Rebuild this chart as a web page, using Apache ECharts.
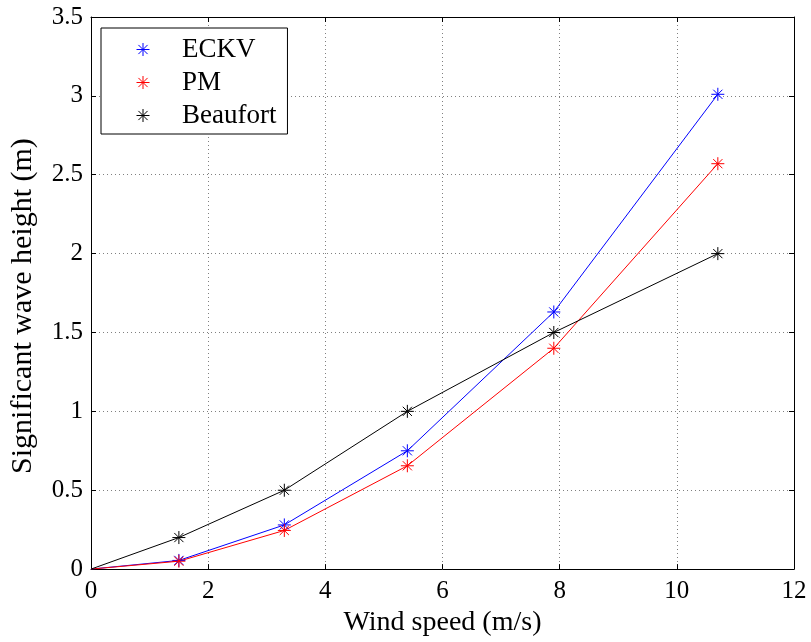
<!DOCTYPE html>
<html>
<head>
<meta charset="utf-8">
<script src="https://cdn.jsdelivr.net/npm/echarts@6/dist/echarts.min.js"></script>
<style>
  html, body { margin: 0; padding: 0; background: #fff; }
  #chart { width: 811px; height: 642px; }
</style>
</head>
<body>
<div id="chart"></div>
<script>
// Wind speed (m/s) and significant wave height (m) for three estimates
const windSpeed = [0, 1.5, 3.3, 5.4, 7.9, 10.7];
const eckv      = [0, 0.055, 0.28, 0.75, 1.63, 3.01];
const pm        = [0, 0.05, 0.245, 0.655, 1.40, 2.57];
const beaufort  = [0, 0.2, 0.5, 1.0, 1.5, 2.0];
const seriesNames = ['ECKV', 'PM', 'Beaufort'];
const seriesColors = ['#0000ff', '#ff0000', '#000000'];

// asterisk marker: plus sign overlaid with a cross
const star = 'path://M0,-6L0,6M-6,0L6,0M-4.24,-4.24L4.24,4.24M-4.24,4.24L4.24,-4.24';
const font = '"Liberation Serif", "Times New Roman", serif';

// the line starts at the origin, but no marker is drawn there
function pairs(ys) {
  return windSpeed.map((x, i) => (i === 0 ? { value: [x, ys[i]], symbol: 'none' } : [x, ys[i]]));
}

const chart = echarts.init(document.getElementById('chart'), null, { renderer: 'canvas' });

const boxAxis = {
  axisLine: { show: true, onZero: false, lineStyle: { color: '#000', width: 1 } },
  axisTick: { show: true, inside: true, length: 5, lineStyle: { color: '#000' } },
  axisLabel: { show: false },
  splitLine: { show: false }
};

chart.setOption({
  backgroundColor: '#fff',
  animation: false,
  grid: { left: 90, right: 17, top: 17, bottom: 70 },
  legend: {
    orient: 'vertical',
    left: 101, top: 28,
    padding: [8, 11, 5, 35],
    itemGap: 6,
    itemWidth: 38, itemHeight: 13,
    icon: star,
    itemStyle: { borderWidth: 1 },
    backgroundColor: '#fff',
    borderColor: '#000', borderWidth: 1,
    textStyle: { fontFamily: font, fontSize: 27, color: '#000', padding: [0, 0, 0, 15] },
    data: seriesNames
  },
  xAxis: [{
    type: 'value', min: 0, max: 12, interval: 2,
    name: 'Wind speed (m/s)', nameLocation: 'middle', nameGap: 32,
    nameTextStyle: { fontFamily: font, fontSize: 28, color: '#000' },
    axisLine: { show: true, onZero: false, lineStyle: { color: '#000', width: 1 } },
    axisTick: { show: true, inside: true, length: 5, lineStyle: { color: '#000' } },
    axisLabel: { fontFamily: font, fontSize: 25, color: '#000', margin: 10 },
    splitLine: { show: true, lineStyle: { color: '#808080', width: 1, type: [1, 3] } }
  }, Object.assign({ type: 'value', position: 'top', min: 0, max: 12, interval: 2 }, boxAxis)],
  yAxis: [{
    type: 'value', min: 0, max: 3.5, interval: 0.5,
    name: 'Significant wave height (m)', nameLocation: 'middle', nameGap: 53,
    nameTextStyle: { fontFamily: font, fontSize: 30, color: '#000', padding: [0, 26, 0, 0] },
    axisLine: { show: true, onZero: false, lineStyle: { color: '#000', width: 1 } },
    axisTick: { show: true, inside: true, length: 5, lineStyle: { color: '#000' } },
    axisLabel: { fontFamily: font, fontSize: 25, color: '#000', margin: 8 },
    splitLine: { show: true, lineStyle: { color: '#808080', width: 1, type: [1, 3] } }
  }, Object.assign({ type: 'value', position: 'right', min: 0, max: 3.5, interval: 0.5 }, boxAxis)],
  series: [eckv, pm, beaufort].map((ys, i) => ({
    name: seriesNames[i],
    type: 'line',
    xAxisIndex: 0, yAxisIndex: 0,
    data: pairs(ys),
    symbol: star,
    symbolSize: 13,
    showSymbol: true,
    lineStyle: { color: seriesColors[i], width: 1 },
    itemStyle: { color: seriesColors[i], borderColor: seriesColors[i], borderWidth: 1 },
    emphasis: { disabled: true }
  }))
});
</script>
</body>
</html>
